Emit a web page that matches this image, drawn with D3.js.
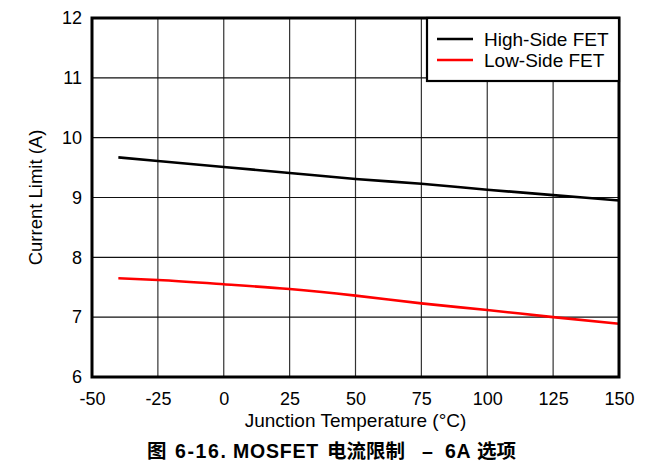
<!DOCTYPE html>
<html><head><meta charset="utf-8">
<script src="https://cdn.jsdelivr.net/npm/d3@7"></script>
<style>body{margin:0;background:#fff}svg{display:block}</style>
</head><body>
<script>
const temps = [-40, -25, 0, 25, 50, 75, 100, 125, 150];
const highSide = [9.67, 9.61, 9.51, 9.41, 9.31, 9.23, 9.13, 9.04, 8.95];
const lowSide = [7.65, 7.62, 7.55, 7.47, 7.36, 7.23, 7.12, 7.00, 6.89];
const xTicks = [-50, -25, 0, 25, 50, 75, 100, 125, 150];
const yTicks = [6, 7, 8, 9, 10, 11, 12];
const seriesNames = ["High-Side FET", "Low-Side FET"];
const seriesColors = ["#000000", "#ff0000"];
const xTitle = "Junction Temperature (°C)";
const yTitle = "Current Limit (A)";
const captionParts = ["图", "6-16.", "MOSFET", "电流限制", "–", "6A", "选项"];

const W = 661, H = 465;
const L = 92, R = 619, T = 18, B = 377;
const svg = d3.select("body").append("svg").attr("width", W).attr("height", H);
svg.append("rect").attr("width", W).attr("height", H).attr("fill", "#fff");

const x = d3.scaleLinear().domain([-50, 150]).range([L, R]);
const y = d3.scaleLinear().domain([6, 12]).range([B, T]);
const font = "'Liberation Sans', Arial, sans-serif";
const fmt = d => String(d);

// grid
svg.append("g").selectAll("line").data(xTicks.slice(1, -1)).join("line")
  .attr("x1", d => x(d)).attr("x2", d => x(d)).attr("y1", T).attr("y2", B)
  .attr("stroke", "#333").attr("stroke-width", 1.2);
svg.append("g").selectAll("line").data(yTicks.slice(1, -1)).join("line")
  .attr("x1", L).attr("x2", R).attr("y1", d => y(d)).attr("y2", d => y(d))
  .attr("stroke", "#111").attr("stroke-width", 1.2);

const xAxis = svg.append("g").attr("transform", `translate(0,${B})`)
  .call(d3.axisBottom(x).tickValues(xTicks).tickSize(0).tickPadding(15).tickFormat(fmt));
xAxis.select(".domain").remove();
xAxis.selectAll("text").attr("font-family", font).attr("font-size", 18).attr("fill", "#000");

const yAxis = svg.append("g").attr("transform", `translate(${L},0)`)
  .call(d3.axisLeft(y).tickValues(yTicks).tickSize(0).tickPadding(10).tickFormat(fmt));
yAxis.select(".domain").remove();
yAxis.selectAll("text").attr("font-family", font).attr("font-size", 18).attr("fill", "#000");

// lines
const line = d3.line().x((d, i) => x(temps[i])).y(d => y(d)).curve(d3.curveMonotoneX);
[highSide, lowSide].forEach((s, k) => {
  svg.append("path").datum(s).attr("d", line).attr("fill", "none")
    .attr("stroke", seriesColors[k]).attr("stroke-width", 2.6);
});

// frame
svg.append("rect").attr("x", L).attr("y", T).attr("width", R - L).attr("height", B - T)
  .attr("fill", "none").attr("stroke", "#000").attr("stroke-width", 3);

// legend
const lg = svg.append("g");
lg.append("rect").attr("x", 427).attr("y", T).attr("width", R - 427).attr("height", 63)
  .attr("fill", "#fff").attr("stroke", "#000").attr("stroke-width", 2.2);
seriesNames.forEach((n, k) => {
  const yy = 39 + k * 21;
  lg.append("line").attr("x1", 437).attr("x2", 473).attr("y1", yy).attr("y2", yy)
    .attr("stroke", seriesColors[k]).attr("stroke-width", 2.6);
  lg.append("text").attr("x", 484).attr("y", yy + 7).text(n)
    .attr("font-family", font).attr("font-size", 19).attr("fill", "#000");
});

// titles
svg.append("text").attr("x", (L + R) / 2).attr("y", 426.5).attr("text-anchor", "middle")
  .attr("font-family", font).attr("font-size", 19).text(xTitle);
svg.append("text").attr("transform", `translate(42,${(T + B) / 2}) rotate(-90)`)
  .attr("text-anchor", "middle").attr("font-family", font).attr("font-size", 18.5).text(yTitle);

// caption: segments laid out left to right with gaps like the original
const capX = [147, 175, 233, 327, 422, 445, 477];
const capLS = [0, 1.6, 0.8, 0, 0, 0.6, 0];
const cap = svg.append("text").attr("y", 458)
  .attr("font-family", "'Liberation Sans', 'Noto Sans CJK SC', sans-serif").attr("font-weight", "bold")
  .attr("font-size", 19.5).attr("fill", "#000");
captionParts.forEach((p, i) => {
  cap.append("tspan").attr("x", capX[i]).attr("letter-spacing", capLS[i]).text(p);
});
</script>
</body></html>
